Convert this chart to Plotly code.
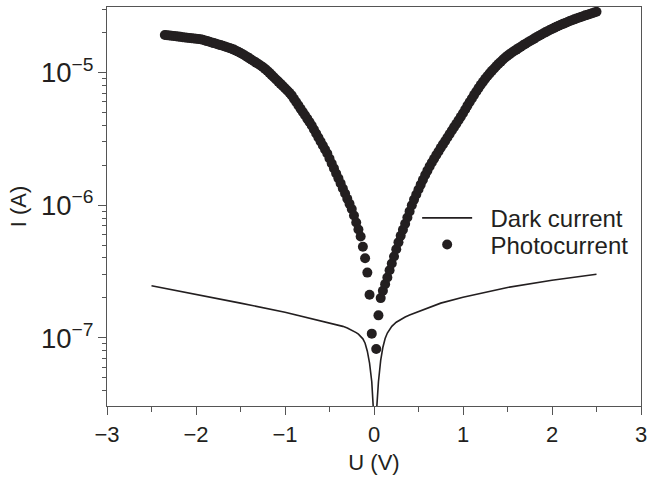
import numpy as np
import plotly.graph_objects as go

# ---- Data ----
dark_V = [-2.5, -2.0, -1.5, -1.0, -0.75, -0.5, -0.4, -0.35, -0.3, -0.25, -0.225, -0.2,
          -0.175, -0.15, -0.125, -0.1, -0.075, -0.05, -0.025, 0.0, 0.025, 0.05, 0.075,
          0.1, 0.125, 0.15, 0.175, 0.2, 0.25, 0.3, 0.35, 0.4, 0.5, 0.75, 1.0, 1.5, 2.0, 2.5]
dark_log10_I = [-6.607, -6.671, -6.738, -6.806, -6.845, -6.885, -6.903, -6.913, -6.925, -6.940,
                -6.949, -6.960, -6.972, -6.987, -7.007, -7.040, -7.100, -7.190, -7.330, -7.620,
                -7.585, -7.330, -7.170, -7.070, -7.005, -6.963, -6.935, -6.913, -6.882, -6.860,
                -6.843, -6.828, -6.803, -6.738, -6.693, -6.620, -6.565, -6.520]

photo_V = [
    -2.350, -2.325, -2.300, -2.275, -2.250, -2.225, -2.200, -2.175, -2.150, -2.125,
    -2.100, -2.075, -2.050, -2.025, -2.000, -1.975, -1.950, -1.925, -1.900, -1.875,
    -1.850, -1.825, -1.800, -1.775, -1.750, -1.725, -1.700, -1.675, -1.650, -1.625,
    -1.600, -1.575, -1.550, -1.525, -1.500, -1.475, -1.450, -1.425, -1.400, -1.375,
    -1.350, -1.325, -1.300, -1.275, -1.250, -1.225, -1.200, -1.175, -1.150, -1.125,
    -1.100, -1.075, -1.050, -1.025, -1.000, -0.975, -0.950, -0.925, -0.900, -0.875,
    -0.850, -0.825, -0.800, -0.775, -0.750, -0.725, -0.700, -0.675, -0.650, -0.625,
    -0.600, -0.575, -0.550, -0.525, -0.500, -0.475, -0.450, -0.425, -0.400, -0.375,
    -0.350, -0.325, -0.300, -0.275, -0.250, -0.225, -0.200, -0.175, -0.150, -0.125,
    -0.100, -0.075, -0.050, -0.025,
    0.025, 0.050, 0.075, 0.100, 0.125, 0.150, 0.175, 0.200, 0.225, 0.250,
    0.275, 0.300, 0.325, 0.350, 0.375, 0.400, 0.425, 0.450, 0.475, 0.500,
    0.525, 0.550, 0.575, 0.600, 0.625, 0.650, 0.675, 0.700, 0.725, 0.750,
    0.775, 0.800, 0.825, 0.850, 0.875, 0.900, 0.925, 0.950, 0.975, 1.000,
    1.025, 1.050, 1.075, 1.100, 1.125, 1.150, 1.175, 1.200, 1.225, 1.250,
    1.275, 1.300, 1.325, 1.350, 1.375, 1.400, 1.425, 1.450, 1.475, 1.500,
    1.525, 1.550, 1.575, 1.600, 1.625, 1.650, 1.675, 1.700, 1.725, 1.750,
    1.775, 1.800, 1.825, 1.850, 1.875, 1.900, 1.925, 1.950, 1.975, 2.000,
    2.025, 2.050, 2.075, 2.100, 2.125, 2.150, 2.175, 2.200, 2.225, 2.250,
    2.275, 2.300, 2.325, 2.350, 2.375, 2.400, 2.425, 2.450, 2.475, 2.500]
photo_log10_I = [
    -4.718, -4.720, -4.722, -4.724, -4.726, -4.728, -4.730, -4.732, -4.734, -4.736,
    -4.738, -4.740, -4.742, -4.744, -4.746, -4.748, -4.750, -4.754, -4.759, -4.764,
    -4.769, -4.774, -4.779, -4.784, -4.789, -4.794, -4.799, -4.804, -4.810, -4.815,
    -4.821, -4.828, -4.836, -4.844, -4.853, -4.863, -4.873, -4.883, -4.894, -4.904,
    -4.915, -4.926, -4.937, -4.948, -4.959, -4.973, -4.987, -5.003, -5.020, -5.036,
    -5.053, -5.069, -5.086, -5.102, -5.119, -5.136, -5.153, -5.173, -5.198, -5.223,
    -5.248, -5.273, -5.298, -5.323, -5.348, -5.373, -5.400, -5.430, -5.460, -5.490,
    -5.520, -5.551, -5.581, -5.611, -5.648, -5.686, -5.723, -5.761, -5.798, -5.836,
    -5.874, -5.912, -5.951, -5.990, -6.029, -6.078, -6.131, -6.183, -6.236, -6.313,
    -6.400, -6.508, -6.675, -6.968,
    -7.083, -6.830, -6.700, -6.645, -6.595, -6.545, -6.490, -6.440, -6.387, -6.332,
    -6.280, -6.230, -6.185, -6.140, -6.093, -6.047, -6.000, -5.958, -5.920, -5.882,
    -5.845, -5.808, -5.773, -5.740, -5.708, -5.678, -5.650, -5.622, -5.595, -5.568,
    -5.542, -5.516, -5.490, -5.464, -5.438, -5.412, -5.386, -5.360, -5.334, -5.308,
    -5.279, -5.250, -5.223, -5.196, -5.169, -5.143, -5.118, -5.093, -5.070, -5.048,
    -5.027, -5.007, -4.988, -4.970, -4.952, -4.935, -4.919, -4.903, -4.888, -4.874,
    -4.862, -4.850, -4.839, -4.828, -4.817, -4.806, -4.795, -4.785, -4.775, -4.765,
    -4.755, -4.745, -4.735, -4.726, -4.716, -4.707, -4.698, -4.689, -4.680, -4.672,
    -4.664, -4.656, -4.648, -4.641, -4.634, -4.627, -4.620, -4.613, -4.606, -4.600,
    -4.594, -4.588, -4.582, -4.576, -4.570, -4.565, -4.560, -4.554, -4.548, -4.543]

x_ticks = [-3, -2, -1, 0, 1, 2, 3]
series_names = ["Dark current", "Photocurrent"]

dark_I = 10 ** np.array(dark_log10_I)
photo_I = 10 ** np.array(photo_log10_I)

INK = "#231f20"
AXIS = "#555555"
FONT = "Liberation Sans, Arial, sans-serif"
Y_RANGE = [-7.513, -4.507]
NBSP = "\u00a0\u00a0"

fig = go.Figure()
fig.add_trace(go.Scatter(x=dark_V, y=dark_I, mode="lines", name=NBSP + series_names[0],
                         legend="legend", line=dict(color=INK, width=1.6)))
# photocurrent on an overlaid copy of the y axis (same range) whose line forms the right frame
fig.add_trace(go.Scatter(x=photo_V, y=photo_I, mode="markers", name=NBSP + series_names[1],
                         yaxis="y2", legend="legend2",
                         marker=dict(color=INK, size=10, line=dict(width=0))))

leg_common = dict(xanchor="left", yanchor="top", bgcolor="rgba(0,0,0,0)", borderwidth=0,
                  font=dict(size=24, color=INK), itemwidth=50)

fig.update_layout(
    width=661, height=477,
    margin=dict(l=107, r=20, t=6, b=70),
    paper_bgcolor="white", plot_bgcolor="white",
    font=dict(family=FONT, size=22, color=INK),
    showlegend=True,
    legend=dict(x=0.5808, y=0.527, **leg_common),
    legend2=dict(x=0.5808, y=0.46, **leg_common),
    xaxis=dict(
        range=[-3, 3], tickvals=x_ticks, ticks="outside", ticklen=8, tickwidth=1.3,
        tickcolor=AXIS, showline=True, linecolor=AXIS, linewidth=1.3, mirror=True,
        showgrid=False, zeroline=False,
        minor=dict(ticks="outside", ticklen=5, tickwidth=1.2, tickcolor=AXIS, dtick=0.5,
                   showgrid=False),
        title=dict(text="U (V)", font=dict(size=22), standoff=9),
        tickfont=dict(size=22),
    ),
    yaxis=dict(
        type="log", range=Y_RANGE, autorange=False, dtick=1, exponentformat="power",
        ticks="outside", ticklen=8, tickwidth=1.3, tickcolor=AXIS,
        showline=True, linecolor=AXIS, linewidth=1.3,
        showgrid=False, zeroline=False,
        minor=dict(ticks="outside", ticklen=4, tickwidth=1.2, tickcolor=AXIS, dtick="D1",
                   showgrid=False),
        title=dict(text="I (A)", font=dict(size=22), standoff=8),
        tickfont=dict(size=22),
    ),
    yaxis2=dict(type="log", range=Y_RANGE, autorange=False, overlaying="y", side="right",
                anchor="x", ticks="", showticklabels=False, showline=True,
                linecolor=AXIS, linewidth=1.3, showgrid=False, zeroline=False),
)

fig.write_html("out.html")
